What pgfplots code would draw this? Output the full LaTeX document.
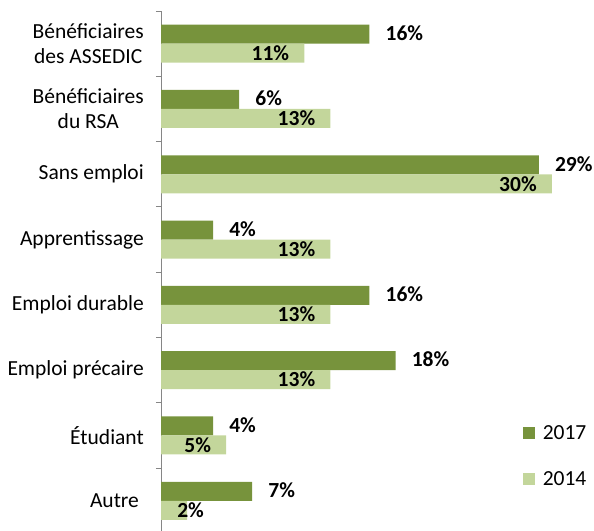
\documentclass[border=0pt]{standalone}
\usepackage{pgfplots}
\pgfplotsset{compat=1.18}
\usepackage{fontspec}
\setmainfont{Carlito}
\definecolor{dark}{HTML}{77933C}
\definecolor{light}{HTML}{C3D69B}
\definecolor{axisgray}{HTML}{868686}
\newcommand\lbl{\fontsize{21.5}{25}\selectfont}
\begin{document}
\begin{tikzpicture}[x=1pt,y=1pt]
\useasboundingbox (0,0) rectangle (594,-530);
\begin{axis}[
  at={(161pt,-11pt)}, anchor=north west,
  scale only axis, width=433pt, height=522.4pt,
  xbar, bar width=19pt,
  xmin=0, xmax=33.23,
  ymin=0.5, ymax=8.5, y dir=reverse,
  axis x line=none, axis y line*=left,
  y axis line style={axisgray, line width=1pt},
  /pgf/number format/assume math mode=true,
  ytick={1,...,8},
  yticklabels={{Bénéficiaires\\des ASSEDIC},{Bénéficiaires\\du RSA},Sans emploi,Apprentissage,Emploi durable,Emploi précaire,Étudiant,Autre\hphantom{i}},
  yticklabel style={font=\lbl, align=center, inner sep=0pt, xshift=-17pt},
  major tick length=0pt,
  minor ytick={0.5,1.5,...,8.5},
  minor tick length=5pt,
  tick align=outside,
  tick style={axisgray, line width=1pt},
  legend style={at={(axis description cs:0.835,0.211)}, anchor=north west,
    draw=none, fill=none, font=\lbl, inner sep=0pt, row sep=26.5pt,
    cells={anchor=west}},
]
\addplot[fill=dark, draw=none, bar shift=9.5pt,
  legend image code/.code={\fill[dark] (0pt,-6.2pt) rectangle (12.4pt,6.2pt); \path (18pt,0pt);},
  nodes near coords={\pgfmathprintnumber{\pgfplotspointmeta}\%},
  nodes near coords style={font=\lbl\bfseries, anchor=west, inner sep=0pt, xshift=16pt, yshift=1pt}]
  coordinates {(16,1) (6,2) (29,3) (4,4) (16,5) (18,6) (4,7) (7,8)};
\addlegendentry{2017}
\addplot[fill=light, draw=none, bar shift=-9.5pt,
  legend image code/.code={\fill[light] (0pt,-6.2pt) rectangle (12.4pt,6.2pt); \path (18pt,0pt);},
  visualization depends on={x \as \rawx},
  nodes near coords={\pgfmathprintnumber{\pgfplotspointmeta}\%},
  nodes near coords style={font=\lbl\bfseries, anchor=east, inner sep=0pt,
    xshift={(\rawx<3)*32pt-15pt}}]
  coordinates {(11,1) (13,2) (30,3) (13,4) (13,5) (13,6) (5,7) (2,8)};
\addlegendentry{2014}
\end{axis}
\end{tikzpicture}
\end{document}
